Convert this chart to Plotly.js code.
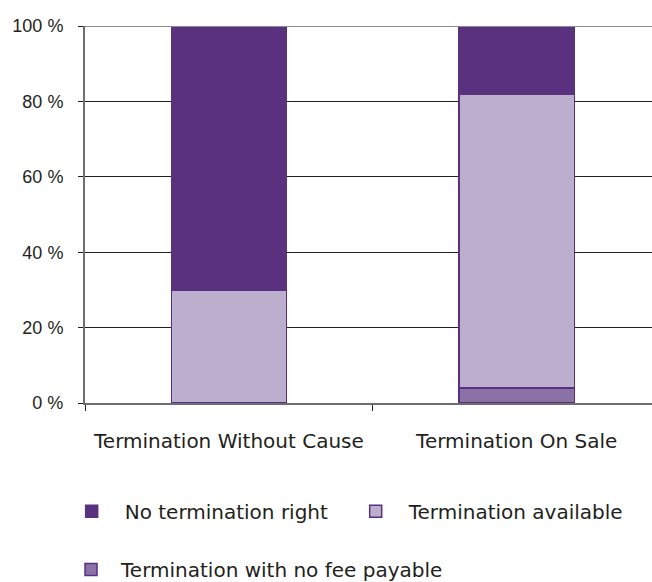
<!DOCTYPE html>
<html><head><meta charset="utf-8">
<script src="https://cdn.plot.ly/plotly-3.0.1.min.js"></script>
<style>html,body{margin:0;padding:0;background:#fff}</style>
</head><body><div id="chart" style="width:652px;height:582px"></div>
<script>
const categories = ["Termination Without Cause", "Termination On Sale"];
const noFee = [0, 4];
const available = [30, 78];
const noRight = [70, 18];
const seriesNames = ["Termination with no fee payable", "Termination available", "No termination right"];
const yTicks = [0, 20, 40, 60, 80, 100];
const yTickText = yTicks.map(v => v + " %");

const line = {color: "#5a2f83", width: 1.5};
const font = "DejaVu Sans, sans-serif";
const traces = [
  {type: "bar", x: categories, y: noFee, name: seriesNames[0], marker: {color: "#8b72a6", line: line}, width: 0.4, legend: "legend2"},
  {type: "bar", x: categories, y: available, name: seriesNames[1], marker: {color: "#bcaecd", line: line}, width: 0.4, legend: "legend"},
  {type: "bar", x: categories, y: noRight, name: seriesNames[2], marker: {color: "#5a317e", line: {color: "#5a317e", width: 1.5}}, width: 0.4, legend: "legend"}
];
const layout = {
  width: 652, height: 582,
  margin: {l: 85, r: 0, t: 26, b: 179},
  barmode: "stack",
  paper_bgcolor: "#fff", plot_bgcolor: "#fff",
  font: {family: font, color: "#231f20", size: 18},
  xaxis: {range: [-0.5, 1.47], showline: true, linecolor: "#6d6e71", linewidth: 2, mirror: false,
          ticks: "outside", tickson: "boundaries", ticklen: 6, tickcolor: "#231f20",
          tickfont: {size: 20, family: font}, showgrid: false, fixedrange: true, ticklabelstandoff: 19},
  yaxis: {range: [0, 100], tickvals: yTicks, ticktext: yTickText, showline: true, linecolor: "#6d6e71", linewidth: 2,
          ticks: "outside", ticklen: 5, tickcolor: "#231f20", gridcolor: "#231f20", gridwidth: 1,
          zeroline: false, tickfont: {size: 18, family: "Liberation Sans, Arial, sans-serif"}, ticklabelstandoff: 11},
  showlegend: true,
  legend: {orientation: "h", traceorder: "reversed", xref: "container", yref: "container", x: 0.09, y: 0.155, xanchor: "left", yanchor: "top",
           font: {size: 20, family: font}, entrywidth: 213, itemwidth: 56},
  legend2: {orientation: "h", xref: "container", yref: "container", x: 0.0936, y: 0.055, xanchor: "left", yanchor: "top",
           font: {size: 20, family: font}, itemwidth: 50},
  shapes: [{type: "line", xref: "paper", yref: "y", x0: 0, x1: 1, y0: 100, y1: 100, line: {color: "#8a8c8e", width: 2}}]
};
Plotly.newPlot("chart", traces, layout, {displayModeBar: false, staticPlot: true});
</script></body></html>
